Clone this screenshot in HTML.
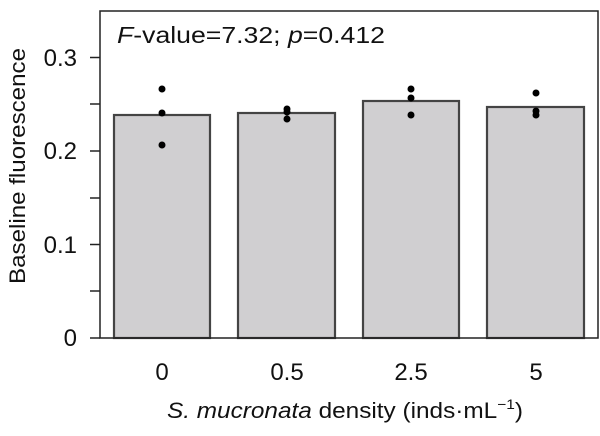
<!DOCTYPE html>
<html><head><style>body{margin:0;background:#fff}</style></head><body>
<svg width="600" height="431" xmlns="http://www.w3.org/2000/svg" font-family="'Liberation Sans', sans-serif">
<rect x="0" y="0" width="600" height="431" fill="#fff"/>
<g fill="#d0cfd1" stroke="#444" stroke-width="2.2">
<rect x="114" y="115" width="96" height="223"/>
<rect x="238" y="113" width="97" height="225"/>
<rect x="363" y="101" width="96" height="237"/>
<rect x="487" y="107" width="97" height="231"/>
</g>
<path d="M100 11H598V338H100Z" fill="none" stroke="#222" stroke-width="1.5"/>
<g stroke="#222" stroke-width="1.5">
<line x1="90" y1="338" x2="100" y2="338"/><line x1="90" y1="291" x2="100" y2="291"/>
<line x1="90" y1="244.5" x2="100" y2="244.5"/><line x1="90" y1="198" x2="100" y2="198"/>
<line x1="90" y1="151" x2="100" y2="151"/><line x1="90" y1="104" x2="100" y2="104"/>
<line x1="90" y1="57.5" x2="100" y2="57.5"/>
</g>
<g fill="#000">
<circle cx="162" cy="89" r="3.5"/><circle cx="162" cy="113" r="3.5"/><circle cx="162" cy="145" r="3.5"/>
<circle cx="287" cy="109" r="3.5"/><circle cx="287" cy="112" r="3.5"/><circle cx="287" cy="119" r="3.5"/>
<circle cx="411" cy="89" r="3.5"/><circle cx="411" cy="98" r="3.5"/><circle cx="411" cy="115" r="3.5"/>
<circle cx="536" cy="93" r="3.5"/><circle cx="536" cy="111" r="3.5"/><circle cx="536" cy="115" r="3.5"/>
</g>
<g font-size="24" fill="#111" text-anchor="end">
<text x="77" y="346">0</text><text x="77" y="253">0.1</text><text x="77" y="159">0.2</text><text x="77" y="66">0.3</text>
</g>
<g font-size="24" fill="#111" text-anchor="middle">
<text x="162" y="380">0</text><text x="287" y="380">0.5</text><text x="411" y="380">2.5</text><text x="536" y="380">5</text>
</g>
<text x="117" y="43" font-size="23" fill="#111" textLength="268" lengthAdjust="spacingAndGlyphs"><tspan font-style="italic">F</tspan>-value=7.32; <tspan font-style="italic">p</tspan>=0.412</text>
<text x="167" y="418" font-size="22" fill="#111" textLength="356" lengthAdjust="spacingAndGlyphs"><tspan font-style="italic">S. mucronata</tspan> density (inds·mL<tspan font-size="14" dy="-9">−1</tspan><tspan dy="9">)</tspan></text>
<text transform="translate(25,166) rotate(-90)" font-size="22" fill="#111" text-anchor="middle" textLength="236" lengthAdjust="spacingAndGlyphs">Baseline fluorescence</text>
</svg>
</body></html>
